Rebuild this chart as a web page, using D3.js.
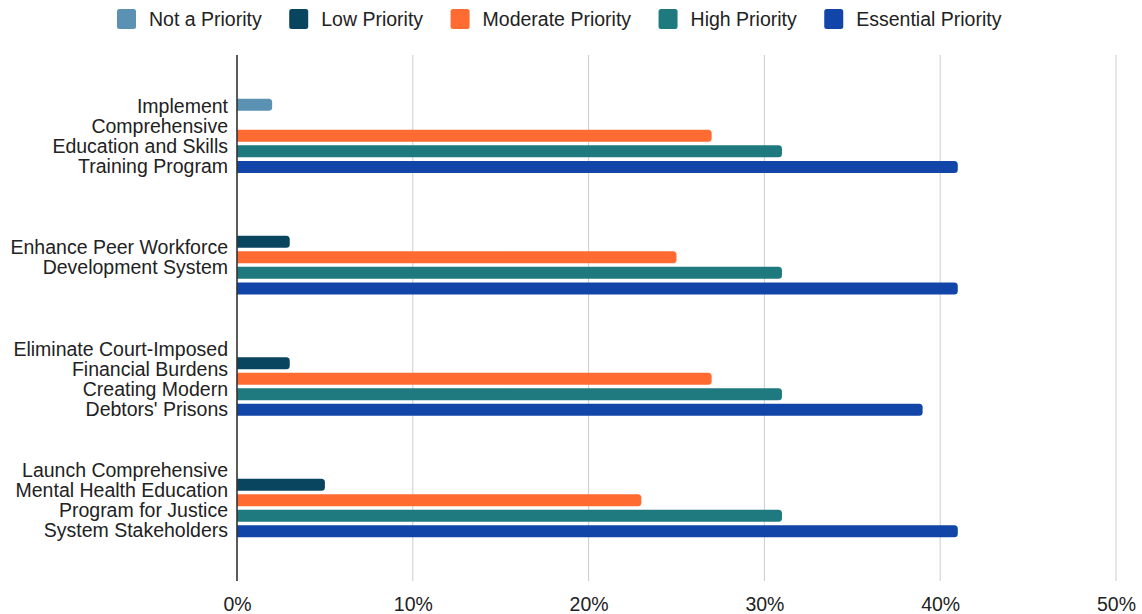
<!DOCTYPE html>
<html>
<head>
<meta charset="utf-8">
<script src="https://cdnjs.cloudflare.com/ajax/libs/d3/7.8.5/d3.min.js"></script>
<style>
  html, body { margin: 0; padding: 0; background: #fff; }
  svg { display: block; font-family: "Liberation Sans", Arial, sans-serif; }
</style>
</head>
<body>
<svg id="chart" width="1142" height="614"></svg>
<script>
// Survey results: share of respondents choosing each priority level, per proposal
const categories = [
  "Implement Comprehensive Education and Skills Training Program",
  "Enhance Peer Workforce Development System",
  "Eliminate Court-Imposed Financial Burdens Creating Modern Debtors' Prisons",
  "Launch Comprehensive Mental Health Education Program for Justice System Stakeholders"
];
const categoryLines = [
  ["Implement", "Comprehensive", "Education and Skills", "Training Program"],
  ["Enhance Peer Workforce", "Development System"],
  ["Eliminate Court-Imposed", "Financial Burdens", "Creating Modern", "Debtors' Prisons"],
  ["Launch Comprehensive", "Mental Health Education", "Program for Justice", "System Stakeholders"]
];
const seriesNames = ["Not a Priority", "Low Priority", "Moderate Priority", "High Priority", "Essential Priority"];
const seriesColors = ["#5b92b3", "#0a4560", "#ff6b30", "#1f7a80", "#1146a8"];
const notAPriority = [2, 0, 0, 0];
const lowPriority = [0, 3, 3, 5];
const moderatePriority = [27, 25, 27, 23];
const highPriority = [31, 31, 31, 31];
const essentialPriority = [41, 41, 39, 41];
const xTicks = [0, 10, 20, 30, 40, 50];

const seriesValues = [notAPriority, lowPriority, moderatePriority, highPriority, essentialPriority];

const svg = d3.select("#chart");
const plot = { left: 237, right: 1116, top: 55, bottom: 581 };
const fontSize = 19.5;

const x = d3.scaleLinear().domain([0, 50]).range([plot.left, plot.right]);
const y0 = d3.scaleBand().domain(categories).range([plot.top, plot.bottom])
  .paddingInner(0.33).paddingOuter(0.33);
const y1 = d3.scaleBand().domain(seriesNames).range([0, y0.bandwidth()]).padding(0.23);

// vertical gridlines
svg.append("g").selectAll("line")
  .data(xTicks.filter(d => d > 0))
  .join("line")
  .attr("x1", d => x(d)).attr("x2", d => x(d))
  .attr("y1", plot.top).attr("y2", plot.bottom)
  .attr("stroke", "#cccccc").attr("stroke-width", 1);

// bottom axis labels
const xAxis = d3.axisBottom(x).tickValues(xTicks).tickFormat(d => d + "%").tickSize(0).tickPadding(0);
const gx = svg.append("g").attr("transform", `translate(0,${plot.bottom})`).call(xAxis);
gx.select(".domain").remove();
gx.selectAll("text")
  .attr("y", 30).attr("dy", 0)
  .attr("font-size", fontSize).attr("fill", "#222")
  .attr("font-family", "Liberation Sans, Arial, sans-serif");

// bars, rounded at the value end only
function barPath(x0, x1, yTop, h, r) {
  const w = x1 - x0;
  if (w <= 0) return "";
  r = Math.min(r, w, h / 2);
  return `M${x0},${yTop}H${x1 - r}Q${x1},${yTop} ${x1},${yTop + r}` +
         `V${yTop + h - r}Q${x1},${yTop + h} ${x1 - r},${yTop + h}H${x0}Z`;
}

const rows = [];
categories.forEach((c, i) => {
  seriesNames.forEach((s, j) => {
    rows.push({ cat: c, series: s, value: seriesValues[j][i], color: seriesColors[j] });
  });
});

svg.append("g").selectAll("path")
  .data(rows.filter(d => d.value > 0))
  .join("path")
  .attr("d", d => barPath(x(0), x(d.value), y0(d.cat) + y1(d.series), y1.bandwidth(), 3.5))
  .attr("fill", d => d.color);

// baseline axis
svg.append("line")
  .attr("x1", x(0)).attr("x2", x(0))
  .attr("y1", plot.top).attr("y2", plot.bottom)
  .attr("stroke", "#333").attr("stroke-width", 1.6);

// category labels, multi-line, right aligned and centred on each group
const lineH = 20;
categories.forEach((c, i) => {
  const lines = categoryLines[i];
  const cy = y0(c) + y0.bandwidth() / 2;
  const t = svg.append("text")
    .attr("text-anchor", "end")
    .attr("font-size", fontSize)
    .attr("fill", "#222");
  lines.forEach((ln, k) => {
    t.append("tspan")
      .attr("x", plot.left - 9)
      .attr("y", cy + (k - (lines.length - 1) / 2) * lineH + 7)
      .text(ln);
  });
});

// legend
const legend = svg.append("g");
let lx = 117;
seriesNames.forEach((s, j) => {
  legend.append("rect")
    .attr("x", lx).attr("y", 9).attr("width", 19).attr("height", 20)
    .attr("rx", 2.5).attr("fill", seriesColors[j]);
  const t = legend.append("text")
    .attr("x", lx + 32).attr("y", 26)
    .attr("font-size", fontSize).attr("fill", "#222")
    .text(s);
  lx += 32 + t.node().getComputedTextLength() + 27.5;
});
</script>
</body>
</html>
